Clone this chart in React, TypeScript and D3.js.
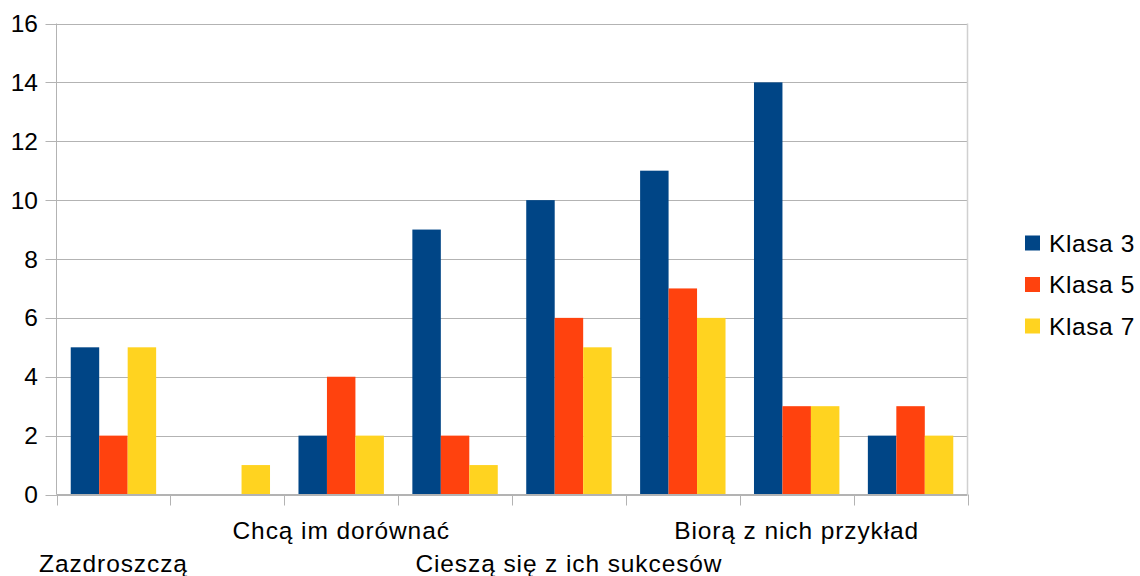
import React from "react";
import * as d3 from "d3";

const categories = ["Zazdroszczą", "", "Chcą im dorównać", "", "Cieszą się z ich sukcesów", "", "Biorą z nich przykład", ""];
const seriesNames = ["Klasa 3", "Klasa 5", "Klasa 7"];
const klasa3 = [5, 0, 2, 9, 10, 11, 14, 2];
const klasa5 = [2, 0, 4, 2, 6, 7, 3, 3];
const klasa7 = [5, 1, 2, 1, 5, 6, 3, 2];
const colors = ["#004586", "#ff420e", "#ffd320"];
const yTicks = [0, 2, 4, 6, 8, 10, 12, 14, 16];

const W = 1140, H = 576;
const left = 56.5, right = 967.5, top = 23.5, bottom = 494.5;
const FONT = "'Liberation Sans', Arial, sans-serif";

export default function App() {
  const series = [klasa3, klasa5, klasa7];
  const idx = categories.map((_, i) => i);
  const x = d3.scaleBand<number>().domain(idx).range([left, right]).paddingInner(0).paddingOuter(0);
  const inner = d3.scaleBand<number>().domain([0, 1, 2]).range([0, x.bandwidth()]).paddingOuter(0.5).paddingInner(0);
  const y = d3.scaleLinear().domain([0, 16]).range([bottom, top]);
  const fs = 24.5;
  return (
    <svg width={W} height={H} style={{ position: "absolute", left: 0, top: 0, background: "#fff" }} fontFamily={FONT}>
      <rect x={0} y={0} width={W} height={H} fill="#fff" />
      {yTicks.map((t) => (
        <g key={t}>
          <line x1={left - 11} x2={right} y1={Math.round(y(t)) + 0.5} y2={Math.round(y(t)) + 0.5} stroke="#b3b3b3" strokeWidth={1} />
          <text x={38} y={y(t)} dy="0.35em" textAnchor="end" fontSize={fs} fill="#000">{t}</text>
        </g>
      ))}
      <line x1={right} x2={right} y1={top} y2={bottom} stroke="#d0d0d0" strokeWidth={1.5} />
      {series.map((vals, s) =>
        vals.map((v, i) => (
          <rect key={`${s}-${i}`} x={(x(i) as number) + (inner(s) as number)} y={y(v)} width={inner.bandwidth()} height={y(0) - y(v)} fill={colors[s]} />
        ))
      )}
      <line x1={left} x2={left} y1={top} y2={bottom} stroke="#b3b3b3" strokeWidth={1} />
      <line x1={left} x2={right} y1={bottom} y2={bottom} stroke="#b3b3b3" strokeWidth={1} />
      {d3.range(categories.length + 1).map((i) => {
        const xx = Math.round(left + i * x.bandwidth()) + 0.5;
        return <line key={i} x1={xx} x2={xx} y1={bottom} y2={bottom + 11} stroke="#b3b3b3" strokeWidth={1} />;
      })}
      {categories.map((c, i) =>
        c ? (
          <text key={i} x={(x(i) as number) + x.bandwidth() / 2} y={(i / 2) % 2 === 0 ? 563 : 530} dy="0.35em" textAnchor="middle" fontSize={fs} letterSpacing={0.9} fill="#000">{c}</text>
        ) : null
      )}
      {seriesNames.map((n, s) => (
        <g key={n}>
          <rect x={1025} y={243 + s * 41.5 - 7.5} width={15} height={15} fill={colors[s]} />
          <text x={1049} y={243 + s * 41.5} dy="0.35em" fontSize={fs} letterSpacing={0.6} fill="#000">{n}</text>
        </g>
      ))}
    </svg>
  );
}
